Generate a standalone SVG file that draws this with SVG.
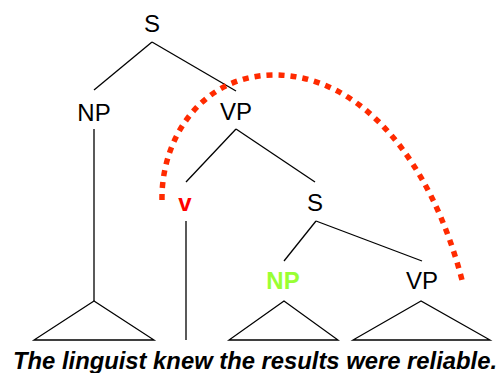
<svg xmlns="http://www.w3.org/2000/svg" width="502" height="373" viewBox="0 0 502 373">
<style>
.e{stroke:#000;stroke-width:1.3;fill:none}
.t{font-family:"Liberation Sans",Arial,sans-serif;font-size:24px;text-anchor:middle;fill:#000}
.b{font-weight:bold}
.trace{stroke:#ff2a00;stroke-width:5.5;fill:none;stroke-dasharray:6 6}
</style>
<rect width="502" height="373" fill="#fff"/>
<g id="connectors">
<line class="e" x1="152" y1="42" x2="94" y2="90"/>
<line class="e" x1="152" y1="42" x2="236" y2="91"/>
<line class="e" x1="94" y1="129" x2="94" y2="301"/>
<polygon class="e" points="94,301 34,340 154,340"/>
<line class="e" x1="236" y1="129" x2="186" y2="182"/>
<line class="e" x1="236" y1="129" x2="315" y2="182"/>
<line class="e" x1="186" y1="221" x2="186" y2="340"/>
<line class="e" x1="316" y1="221" x2="284" y2="261"/>
<line class="e" x1="316" y1="221" x2="422" y2="261"/>
<polygon class="e" points="284,301 229,340 338,340"/>
<polygon class="e" points="421,301 353,340 490,340"/>
<path class="trace" d="M162,200 C161,140 200,76 273,75 C360,74 432,160 463,284"/>
</g>
<g id="S1"><text class="t" x="152" y="32">S</text></g>
<g id="NP1"><text class="t" x="94" y="121">NP</text></g>
<g id="VP1"><text class="t" x="236" y="120">VP</text></g>
<g id="v"><text class="t b" x="185" y="211" fill="#ff0000" style="fill:#ff0000">v</text></g>
<g id="S2"><text class="t" x="315" y="211">S</text></g>
<g id="NP2"><text class="t b" x="283" y="289" style="fill:#99ff33">NP</text></g>
<g id="VP2"><text class="t" x="422" y="289">VP</text></g>
<g id="sentence"><text class="t b" x="255" y="369" font-style="italic" textLength="484" lengthAdjust="spacingAndGlyphs">The linguist knew the results were reliable.</text></g>
</svg>
